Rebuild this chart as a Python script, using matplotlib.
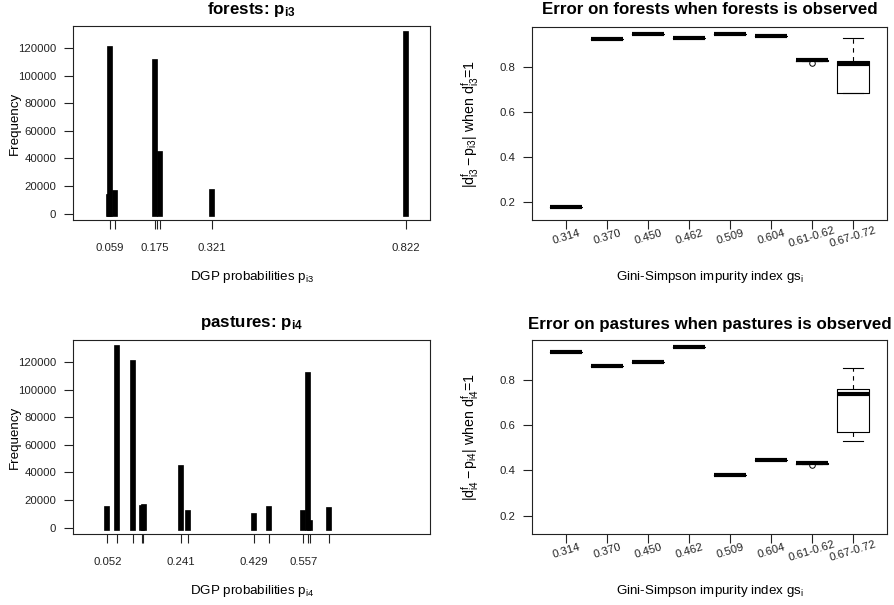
import matplotlib
matplotlib.use('Agg')
import matplotlib.pyplot as plt

plt.rcParams['font.family'] = ['Liberation Sans', 'DejaVu Sans']
plt.rcParams['mathtext.fontset'] = 'custom'
plt.rcParams['mathtext.rm'] = 'Liberation Sans'
plt.rcParams['mathtext.it'] = 'Liberation Sans'
plt.rcParams['mathtext.sf'] = 'Liberation Sans'
plt.rcParams['mathtext.bf'] = 'Liberation Sans:bold'

# ---------------- data ----------------
forest_p = [0.0565, 0.059, 0.071, 0.175, 0.188, 0.321, 0.822]
forest_freq = [12400, 119200, 15100, 109600, 43500, 15800, 130300]
forest_ticks = [0.059, 0.071, 0.175, 0.181, 0.188, 0.321, 0.822]
forest_ticklabels = ['0.059', '', '0.175', '', '', '0.321', '0.822']

pasture_p = [0.052, 0.078, 0.119, 0.140, 0.146, 0.241, 0.259, 0.429, 0.470,
             0.557, 0.569, 0.575, 0.623]
pasture_freq = [13600, 130300, 119400, 14100, 14800, 43000, 10700, 8800, 13600,
                10300, 110300, 3300, 12700]
pasture_ticks = [0.052, 0.078, 0.119, 0.1405, 0.145, 0.241, 0.259, 0.429, 0.470,
                 0.557, 0.569, 0.574, 0.623]
pasture_ticklabels = ['0.052', '', '', '', '', '0.241', '', '0.429', '',
                      '0.557', '', '', '']

freq_ticks = [0, 20000, 40000, 60000, 80000, 100000, 120000]

gs_labels = ['0.314', '0.370', '0.450', '0.462', '0.509', '0.604',
             '0.61-0.62', '0.67-0.72']

f_med = [0.178, 0.925, 0.947, 0.929, 0.947, 0.935, 0.829, 0.812]
f_q1 = [0.178, 0.925, 0.947, 0.929, 0.947, 0.935, 0.826, 0.681]
f_q3 = [0.178, 0.925, 0.947, 0.929, 0.947, 0.935, 0.830, 0.824]
f_lo = [0.178, 0.925, 0.947, 0.929, 0.947, 0.935, 0.826, 0.681]
f_hi = [0.178, 0.925, 0.947, 0.929, 0.947, 0.935, 0.830, 0.928]
f_out = [[], [], [], [], [], [], [0.818], []]

p_med = [0.924, 0.863, 0.882, 0.948, 0.382, 0.447, 0.432, 0.741]
p_q1 = [0.924, 0.863, 0.882, 0.948, 0.382, 0.447, 0.430, 0.572]
p_q3 = [0.924, 0.863, 0.882, 0.948, 0.382, 0.447, 0.433, 0.760]
p_lo = [0.924, 0.863, 0.882, 0.948, 0.382, 0.447, 0.430, 0.531]
p_hi = [0.924, 0.863, 0.882, 0.948, 0.382, 0.447, 0.433, 0.856]
p_out = [[], [], [], [], [], [], [0.425], []]

err_ticks = [0.2, 0.4, 0.6, 0.8]

# ---------------- layout ----------------
W, H = 894, 605
fig = plt.figure(figsize=(W / 100, H / 100), dpi=100)


def px_axes(x0, y0, x1, y1):
    return fig.add_axes([x0 / W, 1 - y1 / H, (x1 - x0) / W, (y1 - y0) / H])


def ftext(x, y, s, **kw):
    fig.text(x / W, 1 - y / H, s, ha='center', va='center', **kw)


TICKLEN = 6.2
TICKFS = 8.2
LABFS = 9.6
TITFS = 12.2


def style(ax):
    for sp in ax.spines.values():
        sp.set_linewidth(0.8)
        sp.set_color('#222222')
    ax.tick_params(length=TICKLEN, width=0.8, color='#222222',
                   labelsize=TICKFS, labelcolor='#222222')


def hist_panel(ax, p, freq, ticks, ticklabels):
    ax.vlines(p, 0, freq, colors='black', linewidth=4.1, capstyle='projecting')
    ax.set_xlim(-0.036, 0.884)
    ax.set_ylim(-4600, 136300)
    ax.set_xticks(ticks)
    ax.set_xticklabels(ticklabels)
    ax.set_yticks(freq_ticks)
    ax.set_yticklabels([str(v) for v in freq_ticks])
    style(ax)
    ax.tick_params(axis='x', pad=10.2)
    ax.tick_params(axis='y', pad=6.0)


def box_panel(ax, med, q1, q3, lo, hi, out):
    stats = []
    for i in range(len(med)):
        stats.append(dict(med=med[i], q1=q1[i], q3=q3[i], whislo=lo[i],
                          whishi=hi[i], fliers=out[i]))
    ax.bxp(stats, positions=list(range(1, len(med) + 1)), widths=0.8,
           capwidths=0.5, showfliers=True,
           boxprops=dict(color='black', linewidth=0.8),
           medianprops=dict(color='black', linewidth=3.0, solid_capstyle='butt'),
           whiskerprops=dict(color='black', linewidth=0.8, linestyle=(0, (4, 4))),
           capprops=dict(color='black', linewidth=0.8),
           flierprops=dict(marker='o', markersize=4, markerfacecolor='white',
                           markeredgecolor='black', markeredgewidth=0.7))
    ax.set_xlim(0.18, 8.82)
    ax.set_ylim(0.118, 0.979)
    ax.set_yticks(err_ticks)
    ax.set_yticklabels([f'{v:.1f}' for v in err_ticks])
    ax.set_xticks(list(range(1, len(med) + 1)))
    ax.set_xticklabels(gs_labels)
    style(ax)
    ax.tick_params(axis='y', pad=6.0)
    ax.tick_params(axis='x', pad=6.3)
    for lab in ax.get_xticklabels():
        lab.set_rotation(17)
        lab.set_rotation_mode('anchor')
        lab.set_va('center')
        lab.set_ha('center')


# top-left
ax1 = px_axes(73.3, 25.5, 430, 220)
hist_panel(ax1, forest_p, forest_freq, forest_ticks, forest_ticklabels)
ftext(251.7, 9.5, r'forests: $\mathbf{p}_{\mathbf{i3}}$', fontsize=TITFS, fontweight='bold')
ftext(15, 123, 'Frequency', fontsize=LABFS, rotation=90)
ftext(251.7, 277.3, r'DGP probabilities $\mathrm{p}_{\mathrm{i3}}$', fontsize=LABFS)

# top-right
ax2 = px_axes(532.3, 26.5, 886.7, 220)
box_panel(ax2, f_med, f_q1, f_q3, f_lo, f_hi, f_out)
ftext(709.5, 10, 'Error on forests when forests is observed', fontsize=TITFS, fontweight='bold')
ftext(470, 124, r'$|\mathrm{d}^{\mathrm{f}}_{\mathrm{i3}} - \mathrm{p}_{\mathrm{i3}}|$ when $\mathrm{d}^{\mathrm{f}}_{\mathrm{i3}}$=1',
      fontsize=10.2, rotation=90)
ftext(709.5, 277.3, r'Gini-Simpson impurity index $\mathrm{gs}_{\mathrm{i}}$', fontsize=LABFS)

# bottom-left
ax3 = px_axes(73.3, 339.5, 430, 534)
hist_panel(ax3, pasture_p, pasture_freq, pasture_ticks, pasture_ticklabels)
ftext(251.7, 323.3, r'pastures: $\mathbf{p}_{\mathbf{i4}}$', fontsize=TITFS, fontweight='bold')
ftext(15, 437, 'Frequency', fontsize=LABFS, rotation=90)
ftext(251.7, 591, r'DGP probabilities $\mathrm{p}_{\mathrm{i4}}$', fontsize=LABFS)

# bottom-right
ax4 = px_axes(532.3, 340, 886.7, 534)
box_panel(ax4, p_med, p_q1, p_q3, p_lo, p_hi, p_out)
ftext(709.5, 324, 'Error on pastures when pastures is observed', fontsize=TITFS, fontweight='bold')
ftext(470, 437, r'$|\mathrm{d}^{\mathrm{f}}_{\mathrm{i4}} - \mathrm{p}_{\mathrm{i4}}|$ when $\mathrm{d}^{\mathrm{f}}_{\mathrm{i4}}$=1',
      fontsize=10.2, rotation=90)
ftext(709.5, 591, r'Gini-Simpson impurity index $\mathrm{gs}_{\mathrm{i}}$', fontsize=LABFS)

fig.savefig('out.png', dpi=100)
